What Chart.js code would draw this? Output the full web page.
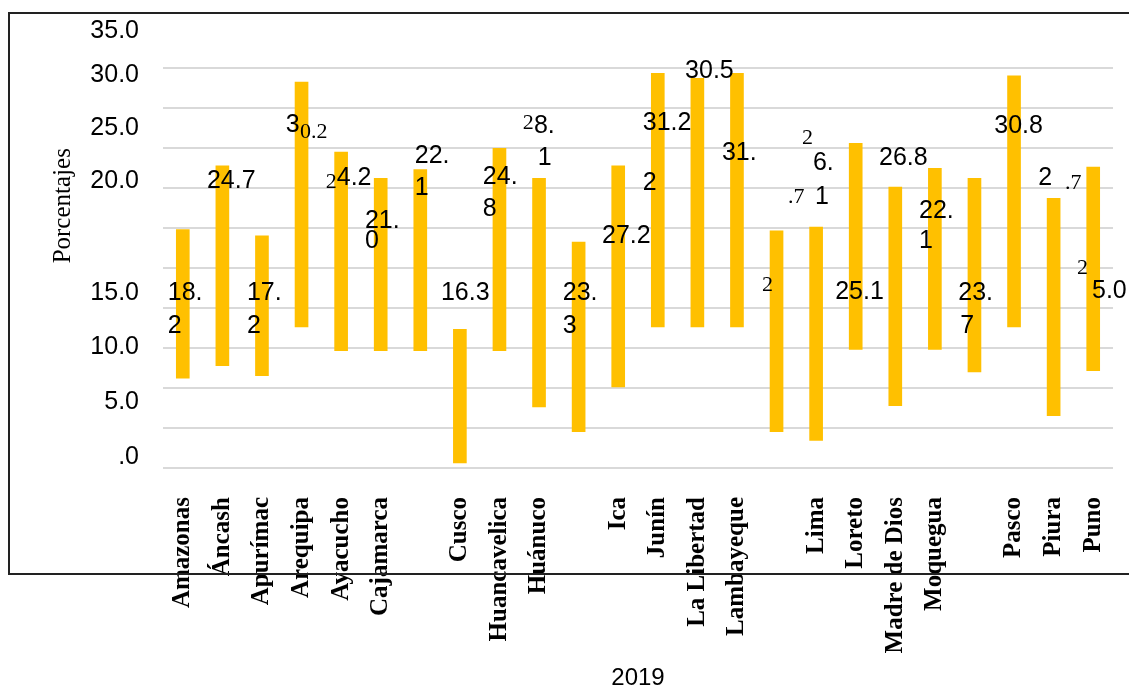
<!DOCTYPE html>
<html>
<head>
<meta charset="utf-8">
<script src="https://cdn.jsdelivr.net/npm/chart.js@4"></script>
<style>
  html, body { margin: 0; padding: 0; background: #fff; overflow: hidden; }
  #wrap { position: relative; width: 1129px; height: 688px; }
  #chart { position: absolute; left: 0; top: 0; }
  #frame {
    position: absolute; left: 8px; top: 12px; width: 1140px; height: 559px;
    border-top: 2px solid #222; border-left: 2px solid #222; border-bottom: 2px solid #222;
    pointer-events: none;
  }
</style>
</head>
<body>
<div id="wrap">
  <canvas id="chart" width="1129" height="688"></canvas>
  <div id="frame"></div>
</div>
<script>
// categories (blank slots have a bar but no printed name)
const categories = ['Amazonas', 'Áncash', 'Apurímac', 'Arequipa', 'Ayacucho', 'Cajamarca', '',
    'Cusco', 'Huancavelica', 'Huánuco', '', 'Ica', 'Junín', 'La Libertad', 'Lambayeque', '',
    'Lima', 'Loreto', 'Madre de Dios', 'Moquegua', '', 'Pasco', 'Piura', 'Puno'];

// floating bar ranges
const lows = [7.2, 8.2, 7.4, 11.3, 9.4, 9.4, 9.4, 0.4, 9.4, 4.9, 2.9, 6.5,
    11.3, 11.3, 11.3, 2.9, 2.2, 9.5, 5.0, 9.5, 7.7, 11.3, 4.2, 7.8];
const highs = [19.1, 24.2, 18.6, 30.9, 25.3, 23.2, 23.9, 11.1, 25.6, 23.2, 18.1, 24.2,
    31.6, 31.2, 31.6, 19.0, 19.3, 26.0, 22.5, 24.0, 23.2, 31.4, 21.6, 24.1];

// y axis ticks as printed
const yTickLabels = ['.0', '5.0', '10.0', '15.0', '20.0', '25.0', '30.0', '35.0'];
const yTickValues = [0.9, 5.3, 9.7, 14.0, 23.0, 27.2, 31.5, 35.0];

// value labels as printed (broken into pieces): text, slot, value, font kind
const labelTexts  = ['18.', '2', '24.7', '17.', '2', '3', '0.2', '2', '4.2', '21.', '0', '22.', '1', '16.3',
    '24.', '8', '2', '8.', '1', '23.', '3', '27.2', '31.2', '2', '30.5', '31.', '2', '.7', '2', '6.', '1',
    '25.1', '26.8', '22.', '1', '23.', '7', '30.8', '2', '.7', '2', '5.0'];
const labelSlots  = [-0.38, -0.38, 0.61, 1.62, 1.62, 2.60, 2.96, 3.61, 3.89, 4.60, 4.60, 5.86, 5.86, 6.52,
    7.58, 7.58, 8.59, 8.87, 8.97, 9.60, 9.60, 10.59, 11.62, 11.62, 12.69, 13.62, 14.63, 15.29, 15.64, 15.92, 15.97,
    16.48, 17.59, 18.60, 18.60, 19.59, 19.64, 20.50, 21.61, 22.29, 22.59, 22.97];
const labelValues = [14.0, 11.35, 23.0, 14.0, 11.35, 27.5, 26.9, 22.85, 23.2, 19.8, 18.2, 25.0, 22.4, 14.0,
    23.3, 20.7, 27.65, 27.4, 24.8, 14.0, 11.35, 18.6, 27.6, 22.8, 31.8, 25.2, 14.6, 21.7, 26.4, 24.4, 21.7,
    14.1, 24.85, 20.6, 18.2, 14.0, 11.4, 27.4, 23.2, 22.8, 16.0, 14.2];
const labelSerif  = [0, 0, 0, 0, 0, 0, 1, 1, 0, 0, 0, 0, 0, 0,
    0, 0, 1, 0, 0, 0, 0, 0, 0, 0, 0, 0, 1, 1, 1, 0, 0,
    0, 0, 0, 0, 0, 0, 0, 0, 1, 1, 0];

const pieceLabels = {
    id: 'pieceLabels',
    afterDatasetsDraw(chart) {
        const ctx = chart.ctx;
        const xs = chart.scales.x, ys = chart.scales.y;
        ctx.save();
        ctx.fillStyle = '#000';
        ctx.textAlign = 'left';
        ctx.textBaseline = 'middle';
        labelTexts.forEach((t, i) => {
            ctx.font = labelSerif[i] ? '22px "Liberation Serif"' : '25px "Liberation Sans"';
            ctx.fillText(t, xs.getPixelForValue(labelSlots[i]), ys.getPixelForValue(labelValues[i]));
        });
        ctx.restore();
    }
};

new Chart(document.getElementById('chart').getContext('2d'), {
    type: 'bar',
    data: {
        labels: categories,
        datasets: [{
            data: lows.map((lo, i) => [lo, highs[i]]),
            backgroundColor: '#FFC000',
            barThickness: 13
        }]
    },
    options: {
        responsive: false,
        animation: false,
        layout: { padding: { top: 23, right: 16, left: 0, bottom: 0 } },
        plugins: { legend: { display: false }, tooltip: { enabled: false } },
        scales: {
            x: {
                grid: { display: false },
                border: { display: false },
                ticks: {
                    autoSkip: false, minRotation: 90, maxRotation: 90, padding: 21,
                    color: '#000', font: { family: 'Liberation Serif', size: 25, weight: 'bold' }
                },
                title: {
                    display: true, text: '2019', color: '#000',
                    font: { family: 'Liberation Sans', size: 24, lineHeight: 0.8 },
                    padding: 0
                },
                afterFit: s => { s.height = 220; s.paddingLeft = 0; s.paddingRight = 0; }
            },
            y: {
                min: 0, max: 35,
                grid: { display: false },
                border: { display: false },
                afterBuildTicks: s => { s.ticks = yTickValues.map(v => ({ value: v })); },
                ticks: {
                    padding: 16, color: '#000',
                    font: { family: 'Liberation Sans', size: 25 },
                    callback: (v, i) => yTickLabels[i]
                },
                title: {
                    display: true, text: ' '.repeat(14) + 'Porcentajes', color: '#000',
                    font: { family: 'Liberation Serif', size: 25 },
                    padding: { top: 48, bottom: 0 }
                },
                afterFit: s => { s.width = 163; }
            },
            g: {
                position: 'left',
                min: 0, max: 35,
                border: { display: false },
                grid: { color: '#d9d9d9', lineWidth: 2, drawTicks: false },
                ticks: { display: false, stepSize: 3.2, includeBounds: false },
                afterFit: s => { s.width = 0; }
            }
        }
    },
    plugins: [pieceLabels]
});
</script>
</body>
</html>
